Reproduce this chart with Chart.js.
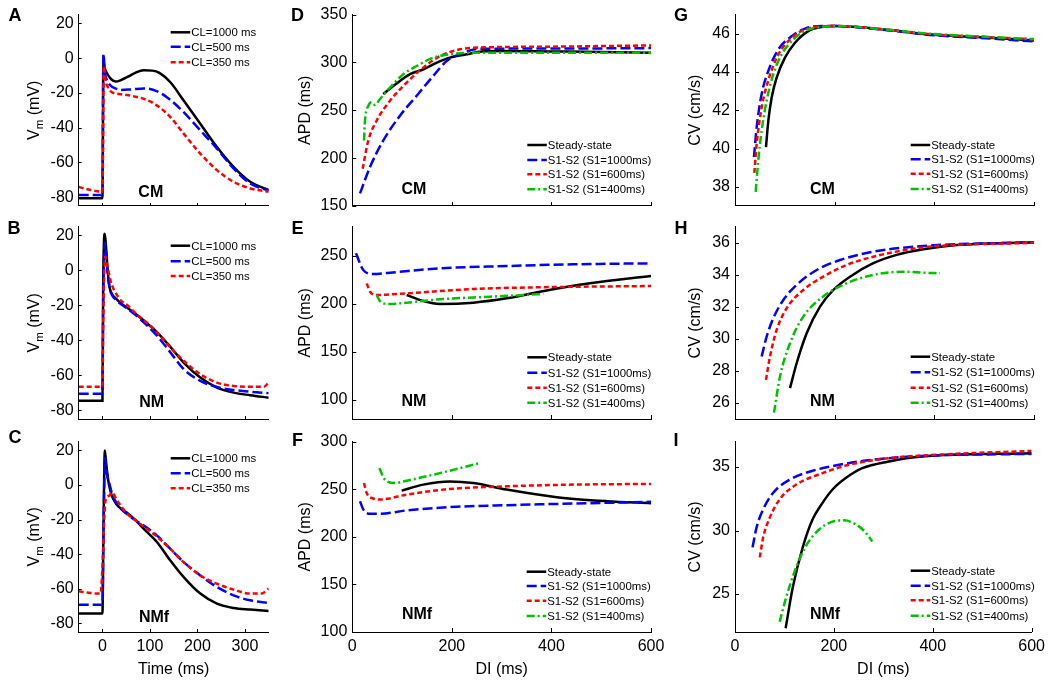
<!DOCTYPE html>
<html><head><meta charset="utf-8">
<script src="https://cdn.jsdelivr.net/npm/chart.js@4.4.0/dist/chart.umd.min.js"></script>
<style>
html,body{margin:0;padding:0;background:#fff;}
#wrap{position:relative;width:1050px;height:680px;overflow:hidden;background:#fff;}
#wrap canvas{position:absolute;left:0;top:0;}
</style></head><body><div id="wrap"></div>
<script>
// ---------------- DATA ----------------
const timeTicks = [0, 100, 200, 300];
const diTicks = [0, 200, 400, 600];
const vmTicks = [-80, -60, -40, -20, 0, 20];
const apdTicksD = [150, 200, 250, 300, 350];
const apdTicksE = [100, 150, 200, 250];
const apdTicksF = [100, 150, 200, 250, 300];
const cvTicksG = [38, 40, 42, 44, 46];
const cvTicksH = [26, 28, 30, 32, 34, 36];
const cvTicksI = [25, 30, 35];
const clLabels = ['CL=1000 ms', 'CL=500 ms', 'CL=350 ms'];
const restLabels = ['Steady-state', 'S1-S2 (S1=1000ms)', 'S1-S2 (S1=600ms)', 'S1-S2 (S1=400ms)'];
const cellTypes = ['CM', 'NM', 'NMf'];

// Panel A (CM action potentials)
const tA1000 = [-50, 0, 2, 5, 10, 18, 28, 40, 55, 70, 87, 105, 120, 143, 171, 206, 241, 276, 311, 350];
const vA1000 = [-80.5, -80.5, -2, -6, -9, -12, -13.5, -12.5, -10.5, -8.3, -7, -7.2, -8.5, -13.9, -24.4, -37.7, -51.1, -62.5, -71.1, -75.8];
const tA500 = [-50, 0, 2, 5, 10, 17, 28, 38, 60, 87, 115, 143, 171, 206, 241, 276, 311, 350];
const vA500 = [-78.7, -78.7, 2.5, -8, -13, -15.8, -17.5, -18.3, -18, -17.4, -19.1, -24, -31.1, -41.5, -52, -63.4, -72, -76.2];
const tA350 = [-50, -25, 0, 3, 6, 12, 20, 35, 52, 70, 87, 115, 143, 171, 206, 241, 276, 311, 350];
const vA350 = [-74, -75.8, -76.8, -4.5, -12, -17, -19.6, -20.6, -21.2, -22.2, -23.4, -27.3, -33.9, -43.4, -54.9, -64.4, -71.1, -74.9, -76.8];

// Panel B (NM action potentials)
const tB1000 = [-50, 0, 1.5, 5, 8, 11, 15, 20, 29, 40, 53, 70, 87, 115, 143, 171, 206, 241, 276, 311, 350];
const vB1000 = [-74.5, -74.5, -10, 21, 12, 0, -9.6, -13.5, -16.3, -19, -21.5, -25, -28.7, -35.4, -43.7, -52.7, -61.3, -67, -69.9, -71.4, -72.8];
const tB500 = [-50, 0, 1.5, 5.5, 8, 11, 15, 20, 29, 40, 53, 70, 87, 115, 143, 171, 206, 241, 276, 311, 350];
const vB500 = [-70.5, -70.5, -20, 16, 8, -2, -10, -14, -17, -19.5, -22, -25.5, -29.7, -37.4, -46.9, -56.5, -63.2, -66.7, -68.4, -69.4, -70.2];
const tB350 = [-50, 0, 1.5, 6, 10, 17, 24, 29, 40, 53, 70, 87, 115, 143, 171, 206, 241, 276, 311, 340, 350];
const vB350 = [-66.5, -66.5, -30, 8, 3, -5.8, -11, -13.4, -17.5, -20.1, -24.5, -28.4, -35.4, -44, -51.7, -59.4, -64.2, -66.1, -66.5, -66.5, -64.2];

// Panel C (NMf action potentials)
const tC1000 = [-50, 0, 2, 5, 8, 12, 15, 20, 29, 40, 53, 70, 87, 115, 143, 171, 206, 241, 276, 311, 350];
const vC1000 = [-74.3, -74.3, -30, 19.9, 12, 3, -1.5, -6.5, -11, -14, -16.4, -20.5, -25.4, -33.1, -43.7, -53.3, -62.8, -68.6, -71.1, -72, -72.8];
const tC500 = [-50, 0, 2, 5.5, 8, 11, 15, 20, 29, 40, 53, 70, 87, 115, 143, 171, 206, 241, 276, 311, 350];
const vC500 = [-69.2, -69.2, -30, 15.7, 10, 4, 0.4, -5, -10.1, -14, -17.2, -20.5, -23.5, -29.3, -37, -44.6, -52.3, -59, -63.8, -66.7, -68.2];
const tC350 = [-50, -25, -4, 0, 3.5, 7, 14, 21, 29, 40, 53, 70, 87, 115, 143, 171, 206, 241, 276, 311, 335, 350];
const vC350 = [-61.5, -62.5, -62.8, -47.5, -20.7, -8.2, -6.3, -4.4, -8.2, -12.5, -16.9, -20.5, -24.1, -29.9, -37, -44.6, -52.3, -57.1, -60.5, -62.8, -62.8, -59.9];

// Panel D (CM APD restitution)
const dD_ss = [62, 89, 116, 143, 170, 196, 230, 260, 300, 400, 500, 600];
const aD_ss = [267, 278, 287.7, 292.9, 299.8, 305, 308.5, 311.5, 312, 311.5, 311, 310.2];
const dD_1000 = [15.5, 35.6, 62.3, 95.8, 129.4, 162.7, 189.6, 223, 256.5, 400, 600];
const aD_1000 = [163.2, 190.8, 218.5, 244.4, 265.2, 286, 301.5, 310.2, 314.3, 314.5, 315];
const dD_600 = [20.8, 32.2, 49, 75.7, 109.3, 142.6, 176.2, 216, 243, 400, 600];
const aD_600 = [189, 218.5, 239.3, 260, 279, 294.6, 306.7, 313.7, 315.3, 316.5, 317.8];
const dD_400 = [23.5, 25.5, 32.3, 39, 45.6, 55.7, 75.7, 102.5, 129.4, 162.7, 196, 250, 400, 600];
const aD_400 = [218.5, 239.3, 254.8, 258.3, 255.6, 261.8, 273.8, 287.7, 296.3, 305, 308.5, 310.2, 310.2, 310];

// Panel E (NM APD restitution)
const dE_ss = [109.3, 142.6, 176, 243, 310, 377, 477.5, 600];
const aE_ss = [209, 202.7, 199.6, 201, 205.5, 212.4, 221.1, 228.7];
const dE_1000 = [7.4, 22, 42, 75.7, 176, 310, 444, 600];
const aE_1000 = [252.3, 235, 230.8, 232.2, 236.7, 239.1, 240.9, 241.9];
const dE_600 = [29, 35.6, 49, 109.3, 243, 377, 600];
const aE_600 = [221, 212.4, 209, 210.7, 215.2, 217, 218.3];
const dE_400 = [49, 55.6, 72.3, 109.3, 176, 276.6, 383.7];
const aE_400 = [209, 202.7, 199.6, 201, 204.5, 207.2, 210];

// Panel F (NMf APD restitution)
const dF_ss = [99.2, 142.6, 196, 243, 310, 410.6, 511, 600];
const aF_ss = [248.6, 254.9, 258.3, 256.6, 249.7, 241.7, 237.5, 235.4];
const dF_1000 = [15.5, 22, 35.6, 55.6, 109.3, 209.7, 310, 444.6, 600];
const aF_1000 = [237.5, 228.9, 224.3, 224.3, 227.8, 231.6, 233.3, 235, 236.8];
const dF_600 = [23.5, 29, 42, 55.6, 109.3, 196, 310, 444.6, 600];
const aF_600 = [256.6, 246, 240.3, 239.2, 244.4, 250.3, 253.1, 254.9, 255.6];
const dF_400 = [54.3, 65.7, 85.8, 109.3, 176, 255];
const aF_400 = [272.2, 260, 256.6, 259, 267, 277.4];

// Panel G (CM CV restitution)
const dG_ss = [62.2, 66.9, 73.6, 83.6, 100.3, 120.4, 147, 174, 200.7, 311, 391, 511.7, 600];
const cG_ss = [40.08, 41.46, 42.67, 43.71, 44.75, 45.53, 46.14, 46.35, 46.4, 46.19, 45.96, 45.79, 45.65];
const dG_1000 = [38.1, 43.5, 53.5, 66.9, 87, 113.7, 140.5, 174, 200.7, 311, 391, 511.7, 600];
const cG_1000 = [39.56, 41.12, 42.85, 44.06, 45.18, 45.87, 46.27, 46.4, 46.4, 46.17, 45.94, 45.75, 45.6];
const dG_600 = [38.8, 43.5, 53.5, 66.9, 87, 113.7, 140.5, 174, 200.7, 311, 391, 511.7, 600];
const cG_600 = [38.73, 40.25, 42.15, 43.57, 44.92, 45.78, 46.22, 46.38, 46.4, 46.2, 45.98, 45.82, 45.7];
const dG_400 = [41.5, 46.8, 53.5, 63.5, 76.9, 93.6, 120.4, 147, 174, 200.7, 311, 391, 511.7, 600];
const cG_400 = [37.74, 39.39, 40.94, 42.5, 43.89, 44.92, 45.78, 46.22, 46.35, 46.4, 46.2, 46.0, 45.83, 45.72];

// Panel H (NM CV restitution)
const dH_ss = [110.4, 123.7, 143.8, 170.6, 197.3, 230.8, 277.6, 324.4, 378, 445, 600];
const cH_ss = [26.93, 28.48, 30.35, 32.01, 33.05, 33.88, 34.72, 35.24, 35.59, 35.86, 36.03];
const dH_1000 = [53.5, 63.5, 76.9, 97, 123.7, 164, 210.7, 277.6, 378, 600];
const cH_1000 = [28.9, 30.14, 31.29, 32.43, 33.37, 34.3, 34.92, 35.44, 35.8, 36.03];
const dH_600 = [62.2, 70.2, 83.6, 103.7, 137, 177, 224, 277.6, 378, 600];
const cH_600 = [27.44, 28.9, 30.56, 31.91, 33.05, 33.88, 34.61, 35.13, 35.71, 36];
const dH_400 = [78.3, 90.3, 110.4, 137, 177, 224, 277.6, 337.8, 378, 411.4];
const cH_400 = [25.4, 27.65, 29.73, 31.39, 32.64, 33.47, 33.99, 34.19, 34.13, 34.09];

// Panel I (NMf CV restitution)
const dI_ss = [102.4, 117, 137, 157, 177, 197.3, 224, 257.5, 311, 378, 600];
const cI_ss = [22.29, 25.54, 28.67, 30.88, 32.18, 33.23, 34.13, 34.91, 35.44, 35.83, 36.09];
const dI_1000 = [35.5, 43.5, 56.9, 76.9, 110.4, 157, 210.7, 277.6, 378, 600];
const cI_1000 = [28.67, 30.23, 31.66, 32.96, 34, 34.71, 35.18, 35.57, 35.88, 36.04];
const dI_600 = [50.2, 56.9, 70.2, 90.3, 123.7, 177, 230.8, 311, 445, 600];
const cI_600 = [27.88, 29.45, 31, 32.45, 33.62, 34.52, 35.18, 35.7, 36.04, 36.27];
const dI_400 = [90.3, 103.7, 123.7, 143.8, 170.6, 197.3, 220.8, 244.2, 264.3, 277.6];
const cI_400 = [22.8, 24.76, 27.1, 28.8, 30.1, 30.7, 30.8, 30.49, 29.84, 29.13];

// ---------------- STYLE / LAYOUT ----------------
const FONT = '"Liberation Sans", Arial, Helvetica, sans-serif';
Chart.defaults.font.family = FONT;
Chart.defaults.color = '#000';

const STYLES = [
  {color: '#000000', dash: []},
  {color: '#0000ff', dash: [10, 4]},
  {color: '#ff0000', dash: [5, 3]},
  {color: '#00c000', dash: [8, 3, 2, 3]}
];
const COLS = [[78.7, 268.7], [352.3, 651], [735, 1034]];
const ROWS = [[13.3, 206], [226.7, 419], [441.7, 632]];
const YW = 60, XH = 40, W = 1050, H = 680;

const panels = [
  {L:'A', c:0, r:0, xr:[-50,350], xt:timeTicks, yr:[-85,25], yt:vmTicks, yTitle:'vm',
   s:[[tA1000,vA1000],[tA500,vA500],[tA350,vA350]], lab:clLabels,
   leg:{x:170.7, rows:[32.3,46.7,62.3]}, lp:[15,14.5], tag:cellTypes[0], tp:[150.8,191.7]},
  {L:'B', c:0, r:1, xr:[-50,350], xt:timeTicks, yr:[-85,25], yt:vmTicks, yTitle:'vm',
   s:[[tB1000,vB1000],[tB500,vB500],[tB350,vB350]], lab:clLabels,
   leg:{x:170.7, rows:[245.7,261.3,276]}, lp:[14,228], tag:cellTypes[1], tp:[151.7,401.7]},
  {L:'C', c:0, r:2, xr:[-50,350], xt:timeTicks, yr:[-85,25], yt:vmTicks, yTitle:'vm',
   s:[[tC1000,vC1000],[tC500,vC500],[tC350,vC350]], lab:clLabels,
   leg:{x:170.7, rows:[458.3,473.3,488.3]}, lp:[15,437], tag:cellTypes[2], tp:[154,616.7], xTitle:'Time (ms)'},
  {L:'D', c:1, r:0, xr:[0,600], xt:diTicks, yr:[150,350], yt:apdTicksD, yTitle:'APD (ms)',
   s:[[dD_ss,aD_ss],[dD_1000,aD_1000],[dD_600,aD_600],[dD_400,aD_400]], lab:restLabels,
   leg:{x:527.3, rows:[145,160,174.3,189.3]}, lp:[297.5,14.5], tag:cellTypes[0], tp:[414,188.3]},
  {L:'E', c:1, r:1, xr:[0,600], xt:diTicks, yr:[80,280], yt:apdTicksE, yTitle:'APD (ms)',
   s:[[dE_ss,aE_ss],[dE_1000,aE_1000],[dE_600,aE_600],[dE_400,aE_400]], lab:restLabels,
   leg:{x:527.3, rows:[357.3,372.7,387.7,402.7]}, lp:[297.5,228], tag:cellTypes[1], tp:[414,400]},
  {L:'F', c:1, r:2, xr:[0,600], xt:diTicks, yr:[100,300], yt:apdTicksF, yTitle:'APD (ms)',
   s:[[dF_ss,aF_ss],[dF_1000,aF_1000],[dF_600,aF_600],[dF_400,aF_400]], lab:restLabels,
   leg:{x:526.7, rows:[571.7,586,600.7,616]}, lp:[297.5,440], tag:cellTypes[2], tp:[417,613.3], xTitle:'DI (ms)'},
  {L:'G', c:2, r:0, xr:[0,600], xt:diTicks, yr:[37,47], yt:cvTicksG, yTitle:'CV (cm/s)',
   s:[[dG_ss,cG_ss],[dG_1000,cG_1000],[dG_600,cG_600],[dG_400,cG_400]], lab:restLabels,
   leg:{x:910.7, rows:[145,159.3,173.7,189]}, lp:[681,15], tag:cellTypes[0], tp:[822.5,188.3]},
  {L:'H', c:2, r:1, xr:[0,600], xt:diTicks, yr:[25,37], yt:cvTicksH, yTitle:'CV (cm/s)',
   s:[[dH_ss,cH_ss],[dH_1000,cH_1000],[dH_600,cH_600],[dH_400,cH_400]], lab:restLabels,
   leg:{x:910.7, rows:[356.7,372.3,387.7,402.7]}, lp:[681,228], tag:cellTypes[1], tp:[822.5,400]},
  {L:'I', c:2, r:2, xr:[0,600], xt:diTicks, yr:[22,37], yt:cvTicksI, yTitle:'CV (cm/s)',
   s:[[dI_ss,cI_ss],[dI_1000,cI_1000],[dI_600,cI_600],[dI_400,cI_400]], lab:restLabels,
   leg:{x:910.7, rows:[570.7,585.7,600.3,615.7]}, lp:[676,440], tag:cellTypes[2], tp:[825,613.3], xTitle:'DI (ms)'}
];

function capText(ctx, txt, cx, cy, size, bold, align) {
  ctx.font = (bold ? 'bold ' : '') + size + 'px ' + FONT;
  ctx.textAlign = align || 'center';
  ctx.textBaseline = 'alphabetic';
  ctx.fillStyle = '#000';
  ctx.fillText(txt, cx, cy + 0.358 * size);
}

function yTitle(ctx, p, cx, cy) {
  ctx.save();
  ctx.translate(cx, cy);
  ctx.rotate(-Math.PI / 2);
  ctx.fillStyle = '#000';
  ctx.textBaseline = 'alphabetic';
  ctx.textAlign = 'left';
  let parts;
  if (p.yTitle === 'vm') {
    parts = [{t:'V', s:16, dy:0}, {t:'m', s:11.5, dy:4}, {t:' (mV)', s:16, dy:0}];
  } else {
    parts = [{t:p.yTitle, s:16, dy:0}];
  }
  let total = 0;
  parts.forEach(q => { ctx.font = q.s + 'px ' + FONT; q.w = ctx.measureText(q.t).width; total += q.w; });
  let x = -total / 2;
  parts.forEach(q => {
    ctx.font = q.s + 'px ' + FONT;
    ctx.fillText(q.t, x, 0.358 * 16 + q.dy);
    x += q.w;
  });
  ctx.restore();
}

const wrap = document.getElementById('wrap');
panels.forEach((p, pi) => {
  const cv = document.createElement('canvas');
  cv.width = W; cv.height = H;
  cv.style.width = W + 'px'; cv.style.height = H + 'px';
  wrap.appendChild(cv);
  const [L, R] = COLS[p.c];
  const [T, B] = ROWS[p.r];
  const showX = p.r === 2;
  const datasets = p.s.map((sr, i) => ({
    label: p.lab[i],
    data: sr[0].map((x, k) => ({x: x, y: sr[1][k]})),
    borderColor: STYLES[i].color,
    borderDash: STYLES[i].dash,
    borderWidth: 2.5,
    pointRadius: 0,
    pointHoverRadius: 0,
    fill: false,
    cubicInterpolationMode: 'monotone',
    order: p.s.length - i
  }));
  const deco = {
    id: 'deco' + pi,
    afterDatasetsDraw(chart) {
      const ctx = chart.ctx, ca = chart.chartArea, xs = chart.scales.x, ys = chart.scales.y;
      ctx.save();
      ctx.strokeStyle = '#000';
      ctx.lineWidth = 1;
      ctx.setLineDash([]);
      const TL = p.c === 0 ? 3 : 4;
      p.xt.forEach(v => {
        const px = Math.round(xs.getPixelForValue(v)) + 0.5;
        ctx.beginPath(); ctx.moveTo(px, ca.bottom); ctx.lineTo(px, ca.bottom - TL); ctx.stroke();
      });
      p.yt.forEach(v => {
        const py = Math.round(ys.getPixelForValue(v)) + 0.5;
        ctx.beginPath(); ctx.moveTo(ca.left, py); ctx.lineTo(ca.left + TL, py); ctx.stroke();
      });
      ctx.restore();
    },
    afterDraw(chart) {
      const ctx = chart.ctx, ca = chart.chartArea;
      ctx.save();
      // panel letter
      capText(ctx, p.L, p.lp[0], p.lp[1], 18, true);
      // cell type tag
      capText(ctx, p.tag, p.tp[0], p.tp[1], 16, true);
      // y title
      const tx = p.c === 0 ? 33 : (p.c === 1 ? 304 : 694);
      yTitle(ctx, p, tx, (ca.top + ca.bottom) / 2);
      // x title
      if (p.xTitle) capText(ctx, p.xTitle, (ca.left + ca.right) / 2, 668, 16, false);
      // legend
      p.lab.forEach((lbl, i) => {
        const y = p.leg.rows[i];
        ctx.strokeStyle = STYLES[i].color;
        ctx.lineWidth = 2.5;
        ctx.setLineDash(STYLES[i].dash);
        ctx.beginPath(); ctx.moveTo(p.leg.x, y); ctx.lineTo(p.leg.x + 19.5, y); ctx.stroke();
        ctx.setLineDash([]);
        ctx.font = '11.4px ' + FONT;
        ctx.textAlign = 'left';
        ctx.textBaseline = 'alphabetic';
        ctx.fillStyle = '#000';
        ctx.fillText(lbl, p.leg.x + 20.5, y + 4.1);
      });
      ctx.restore();
    }
  };
  new Chart(cv, {
    type: 'line',
    data: {datasets},
    options: {
      responsive: false,
      animation: false,
      devicePixelRatio: 1,
      events: [],
      layout: {padding: {left: L - YW, top: T, right: W - R, bottom: H - B - XH}},
      plugins: {legend: {display: false}, tooltip: {enabled: false}, title: {display: false}},
      scales: {
        x: {
          type: 'linear', min: p.xr[0], max: p.xr[1],
          afterBuildTicks: s => { s.ticks = p.xt.map(v => ({value: v})); },
          afterFit: s => { s.height = XH; },
          grid: {display: false, drawTicks: false},
          border: {display: true, color: '#000', width: 1},
          ticks: {display: showX, font: {size: 16}, color: '#000', padding: 5, maxRotation: 0, autoSkip: false,
                  callback: v => String(v)}
        },
        y: {
          type: 'linear', min: p.yr[0], max: p.yr[1],
          afterBuildTicks: s => { s.ticks = p.yt.map(v => ({value: v})); },
          afterFit: s => { s.width = YW; },
          grid: {display: false, drawTicks: false},
          border: {display: true, color: '#000', width: 1},
          ticks: {font: {size: 16}, color: '#000', padding: 5, autoSkip: false, callback: v => String(v)}
        }
      }
    },
    plugins: [deco]
  });
});
</script>
</body></html>
